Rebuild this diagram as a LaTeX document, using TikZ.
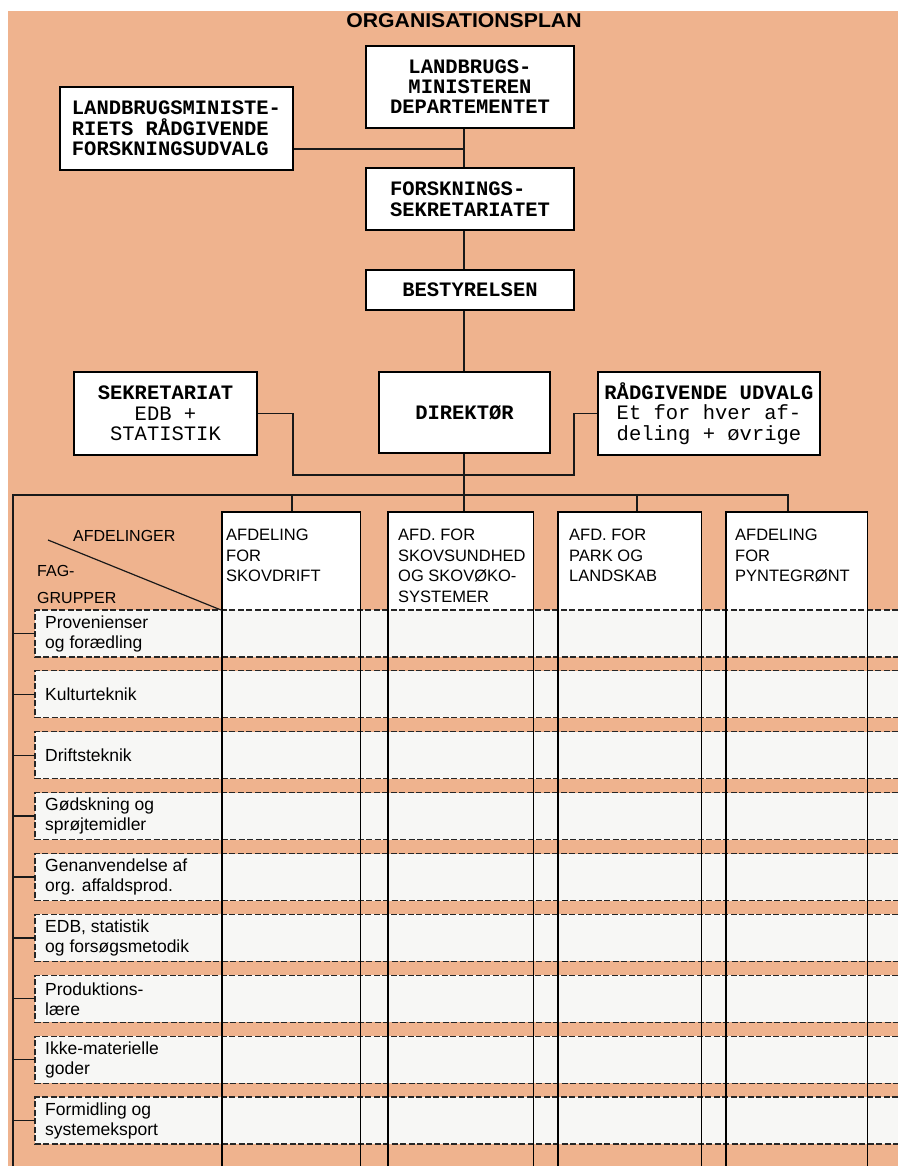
\documentclass[tikz,border=0pt]{standalone}
\usepackage{fontspec}
\setmainfont{Liberation Sans}
\newfontfamily\tw{Liberation Mono}
\newfontfamily\ttl{Liberation Sans}[FakeStretch=1.06]
\usetikzlibrary{calc}
\definecolor{peach}{RGB}{239,179,142}
\definecolor{band}{RGB}{247,247,245}
\begin{document}
\begin{tikzpicture}[x=1pt,y=-1pt,
  box/.style={draw=black, line width=1.3pt, fill=white, inner sep=0pt, align=center,
              font=\tw\fontsize{20.5}{20.5}\selectfont},
  conn/.style={line width=1.3pt, draw=black!90},
  col/.style={line width=1.2pt, draw=black},
  dsh/.style={line width=1.2pt, draw=black!85, dash pattern=on 6pt off 2.5pt},
  deptbox/.style={fill=white, inner sep=0pt, minimum height=98, anchor=north west},
  dtext/.style={inner sep=0pt, anchor=north west, align=left, font=\fontsize{16.5}{20.5}\selectfont},
  rowlab/.style={anchor=west, inner xsep=10pt, inner ysep=0pt, align=left, font=\fontsize{17.5}{20}\selectfont}
]
\useasboundingbox (0,0) rectangle (898,1166);
\fill[white] (0,0) rectangle (898,1166);
\fill[peach] (8,11) rectangle (898,1166);

% title
\node[font=\ttl\bfseries\fontsize{20}{20}\selectfont, anchor=base, inner sep=0pt] (title) at (464,28) {ORGANISATIONSPLAN};

% top boxes
\node[box, minimum width=208, minimum height=82, font=\tw\bfseries\fontsize{20.5}{20}\selectfont] (dep) at (470,87) {LANDBRUGS-\\MINISTEREN\\DEPARTEMENTET};
\node[box, minimum width=233, minimum height=83, align=left, font=\tw\bfseries\fontsize{20.5}{20.5}\selectfont] (rad) at (176.5,128.5) {LANDBRUGSMINISTE-\\RIETS RÅDGIVENDE\\FORSKNINGSUDVALG};
\node[box, minimum width=208, minimum height=62, align=left, font=\tw\bfseries\fontsize{20.5}{20.5}\selectfont] (fs) at (470,199) {FORSKNINGS-\\SEKRETARIATET};
\node[box, minimum width=208, minimum height=40, font=\tw\bfseries\fontsize{20.5}{20.5}\selectfont] (best) at (470,290) {BESTYRELSEN};
\node[box, minimum width=171, minimum height=81, font=\tw\bfseries\fontsize{20.5}{20.5}\selectfont] (dir) at (464.5,412.5) {DIREKTØR};
\node[box, minimum width=183, minimum height=83] (sek) at (165.5,413.5) {{\bfseries SEKRETARIAT}\\EDB +\\STATISTIK};
\node[box, minimum width=222, minimum height=83] (rv) at (709,413.5) {{\bfseries RÅDGIVENDE UDVALG}\\Et for hver af-\\deling + øvrige};

% connectors top
\coordinate (sp) at (464,0);
\coordinate (j1) at (464,149);
\coordinate (k1) at (293,475);
\coordinate (k2) at (574,475);
\coordinate (bL) at (13,495);
\coordinate (bR) at (788,495);
\coordinate (t1) at (292,495);
\coordinate (t3) at (637,495);
\coordinate (bot) at (0,1166);
\coordinate (dg) at (48,540);

\draw[conn] (dep.south -| sp) -- (fs.north -| sp);
\draw[conn] (rad.east |- j1) -- (j1);
\draw[conn] (fs.south -| sp) -- (best.north -| sp);
\draw[conn] (best.south -| sp) -- (dir.north -| sp);
\draw[conn] (sek.east) -| (k1) -- (k2) |- (rv.west);

% department boxes (fill)
\node[deptbox, minimum width=138] (d1) at (222,512) {};
\node[deptbox, minimum width=145] (d2) at (388,512) {};
\node[deptbox, minimum width=143] (d3) at (558,512) {};
\node[deptbox, minimum width=141] (d4) at (726,512) {};

\draw[conn] (dir.south -| sp) -- (d2.north -| sp);
\draw[conn] (bL |- bot) -- (bL) -- (bR) -- (d4.north -| bR);
\draw[conn] (t1) -- (d1.north -| t1);
\draw[conn] (t3) -- (d3.north -| t3);

% rows
\foreach \i/\txt in {0/{Provenienser\\og forædling},1/Kulturteknik,2/Driftsteknik,3/{Gødskning og\\sprøjtemidler},4/{Genanvendelse af\\org. affaldsprod.},5/{EDB, statistik\\og forsøgsmetodik},6/{Produktions-\\lære},7/{Ikke-materielle\\goder},8/{Formidling og\\systemeksport}}{
  \pgfmathsetmacro\t{610+60.875*\i}
  \fill[band] (35,\t) rectangle (898,\t+47);
  \draw[dsh] (898,\t) -- (35,\t) -- (35,\t+47) -- (898,\t+47);
  \node[rowlab] (r\i) at (35,\t+23.5) {\txt};
  \draw[conn] (r\i.west -| bL) -- (r\i.west);
}

% column lines
\draw[col] (d1.north west |- bot) -- (d1.north west) -- (d1.north east) -- (d1.north east |- bot);
\draw[col] (d2.north west |- bot) -- (d2.north west) -- (d2.north east) -- (d2.north east |- bot);
\draw[col] (d3.north west |- bot) -- (d3.north west) -- (d3.north east) -- (d3.north east |- bot);
\draw[col] (d4.north west |- bot) -- (d4.north west) -- (d4.north east) -- (d4.north east |- bot);

% department headings
\node[dtext] (h1) at (226,529) {AFDELING\\FOR\\SKOVDRIFT};
\node[dtext] (h2) at (398,529) {AFD. FOR\\SKOVSUNDHED\\OG SKOVØKO-\\SYSTEMER};
\node[dtext] (h3) at (569,529) {AFD. FOR\\PARK OG\\LANDSKAB};
\node[dtext] (h4) at (735,529) {AFDELING\\FOR\\PYNTEGRØNT};

% corner labels
\node[anchor=base west, inner sep=0pt, font=\fontsize{16}{16}\selectfont] (afd) at (73,541) {AFDELINGER};
\node[anchor=base west, inner sep=0pt, font=\fontsize{16}{16}\selectfont] (fag1) at (37,576) {FAG-};
\node[anchor=base west, inner sep=0pt, font=\fontsize{16}{16}\selectfont] (fag2) at (37,603) {GRUPPER};
\draw[conn, line width=1.2pt] (dg) -- (d1.south west);
\end{tikzpicture}
\end{document}
